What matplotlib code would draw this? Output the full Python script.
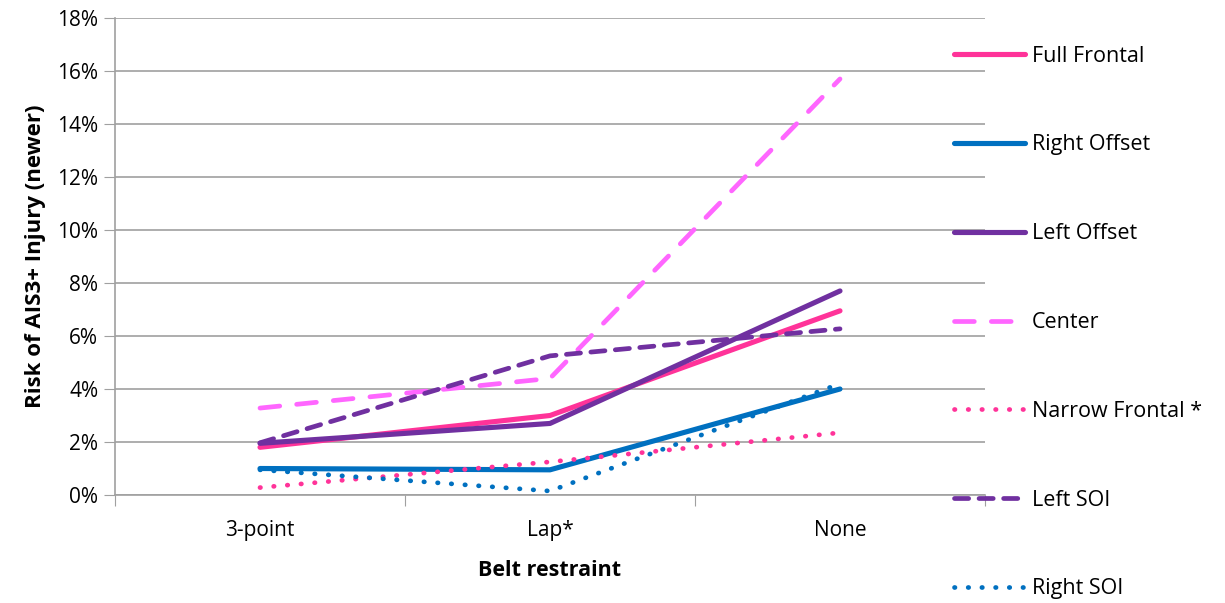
import matplotlib.pyplot as plt
from matplotlib.ticker import PercentFormatter

plt.rcParams['font.family'] = ['Open Sans', 'DejaVu Sans']

categories = ['3-point', 'Lap*', 'None']
full_frontal = [1.8, 3.0, 6.95]
right_offset = [1.0, 0.95, 4.0]
left_offset = [1.95, 2.7, 7.7]
center = [3.28, 4.4, 15.7]
narrow_frontal = [0.28, 1.25, 2.35]
left_soi = [1.97, 5.25, 6.27]
right_soi = [0.95, 0.15, 4.2]

fig = plt.figure(figsize=(12.25, 6.03), dpi=100)
ax = fig.add_axes([115 / 1225, 108 / 603, 870 / 1225, 477 / 603])

x = range(len(categories))
# (label, values, colour, line style)
series = [
    ('Full Frontal', full_frontal, '#FF3399', '-'),
    ('Right Offset', right_offset, '#0070C0', '-'),
    ('Left Offset', left_offset, '#7030A0', '-'),
    ('Center', center, '#FF66FF', (0, (4.2, 3.6))),
    ('Narrow Frontal *', narrow_frontal, '#FF3399', (0, (0.1, 2.8))),
    ('Left SOI', left_soi, '#7030A0', (0, (3.0, 2.2))),
    ('Right SOI', right_soi, '#0070C0', (0, (0.1, 2.8))),
]
handles = []
for label, vals, color, ls in series:
    lw = 3.7 if ls == '-' else 3.4
    h, = ax.plot(x, vals, color=color, linestyle=ls, linewidth=lw,
                 solid_capstyle='round', dash_capstyle='round', label=label)
    handles.append(h)

ax.set_xlim(-0.5, 2.5)
ax.set_ylim(0, 18)
ax.set_yticks(range(0, 19, 2))
ax.yaxis.set_major_formatter(PercentFormatter(decimals=0))
ax.set_xticks([-0.5, 0.5, 1.5, 2.5])
ax.set_xticklabels([])
ax.set_xticks(list(x), minor=True)
ax.set_xticklabels(categories, minor=True)
ax.tick_params(axis='x', which='minor', length=0, pad=18, labelsize=15)
ax.tick_params(axis='x', which='major', length=8, color='#A0A0A0', direction='out')
ax.tick_params(axis='y', length=8, color='#A0A0A0', labelsize=15, pad=4)
ax.grid(axis='y', color='#A0A0A0', linewidth=1.2)
ax.set_axisbelow(True)
for s in ['top', 'right']:
    ax.spines[s].set_visible(False)
for s in ['left', 'bottom']:
    ax.spines[s].set_color('#A0A0A0')
    ax.spines[s].set_linewidth(1.2)

ax.set_xlabel('Belt restraint', fontsize=15.5, fontweight='bold', labelpad=14)
ax.set_ylabel('Risk of AIS3+ Injury (newer)', fontsize=16, fontweight='bold', labelpad=8)

fig.legend(handles=handles, loc='upper left', bbox_to_anchor=(945 / 1225, 1 - 37 / 603),
           frameon=False, fontsize=15.5, handlelength=3.3, handletextpad=0.35,
           labelspacing=3.15, borderaxespad=0)

fig.savefig('out.png', dpi=100)
